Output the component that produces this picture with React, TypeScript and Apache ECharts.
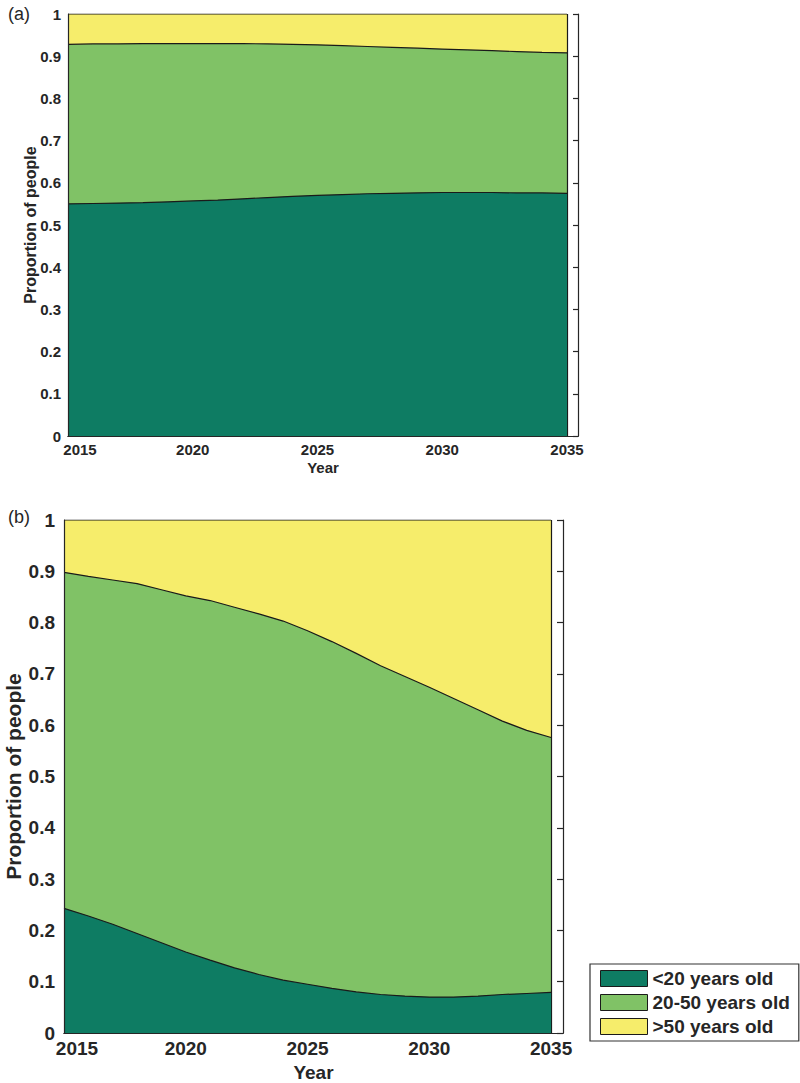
import React, { useEffect, useRef } from "react";
import * as echarts from "echarts";

const years = [2015, 2016, 2017, 2018, 2019, 2020, 2021, 2022, 2023, 2024, 2025, 2026, 2027, 2028, 2029, 2030, 2031, 2032, 2033, 2034, 2035];
const seriesNames = ["<20 years old", "20-50 years old", ">50 years old"];
const colors = ["#0e7c63", "#80c266", "#f6ed6b"];

// Panel (a)
const aUnder20 = [0.550, 0.551, 0.552, 0.553, 0.555, 0.557, 0.559, 0.562, 0.565, 0.568, 0.570, 0.572, 0.574, 0.575, 0.576, 0.577, 0.577, 0.577, 0.576, 0.576, 0.575];
const a20to50 = [0.378, 0.378, 0.377, 0.377, 0.375, 0.373, 0.371, 0.368, 0.364, 0.360, 0.357, 0.353, 0.349, 0.346, 0.343, 0.340, 0.338, 0.336, 0.335, 0.333, 0.333];
const aOver50 = [0.072, 0.071, 0.071, 0.070, 0.070, 0.070, 0.070, 0.070, 0.071, 0.072, 0.073, 0.075, 0.077, 0.079, 0.081, 0.083, 0.085, 0.087, 0.089, 0.091, 0.092];

// Panel (b)
const bUnder20 = [0.243, 0.228, 0.212, 0.194, 0.176, 0.158, 0.142, 0.127, 0.114, 0.103, 0.095, 0.087, 0.080, 0.075, 0.072, 0.070, 0.070, 0.072, 0.075, 0.077, 0.079];
const b20to50 = [0.655, 0.662, 0.671, 0.682, 0.688, 0.694, 0.701, 0.703, 0.703, 0.700, 0.689, 0.676, 0.660, 0.641, 0.623, 0.604, 0.582, 0.558, 0.533, 0.513, 0.497];
const bOver50 = [0.102, 0.110, 0.117, 0.124, 0.136, 0.148, 0.157, 0.170, 0.183, 0.197, 0.216, 0.237, 0.260, 0.284, 0.305, 0.326, 0.348, 0.370, 0.392, 0.410, 0.424];

const xTicks = [2015, 2020, 2025, 2030, 2035];

const FONT = "'Liberation Sans', Arial, Helvetica, sans-serif";
const DARK = "#262626";

// cumulative tops of the stacked bands (built from the arrays above)
const cumulative = (arrs: number[][]) =>
  arrs.map((_, k) => years.map((_, i) => arrs.slice(0, k + 1).reduce((s, a) => s + a[i], 0)));

function App() {
  const ref = useRef<HTMLDivElement>(null);

  useEffect(() => {
    if (!ref.current) return;
    const chart = echarts.init(ref.current, null, { renderer: "svg" });

    const makeXAxes = (gridIndex: number, max: number, fontSize: number, firstPad: number, nameGap: number, nameSize: number) => [
      {
        type: "value",
        gridIndex,
        min: 2015,
        max,
        interval: 5,
        position: "bottom",
        z: 10,
        axisLine: { show: true, lineStyle: { color: DARK, width: 1.2 } },
        axisTick: { show: false },
        splitLine: { show: false },
        axisLabel: {
          margin: 6,
          color: DARK,
          fontFamily: FONT,
          fontWeight: "bold",
          fontSize,
          formatter: (v: number) => {
            if (!xTicks.includes(v)) return "";
            return v === xTicks[0] ? "{f|" + v + "}" : String(v);
          },
          rich: {
            f: { padding: [0, 0, 0, firstPad], fontFamily: FONT, fontWeight: "bold", fontSize, color: DARK },
          },
        },
        name: "Year",
        nameLocation: "middle",
        nameGap,
        nameMoveOverlap: false,
        nameTextStyle: { fontFamily: FONT, fontWeight: "bold", fontSize: nameSize, color: DARK },
      },
      {
        type: "value",
        gridIndex,
        min: 2015,
        max,
        position: "top",
        z: 10,
        axisLine: { show: true, lineStyle: { color: DARK, width: 1.2 } },
        axisTick: { show: false },
        axisLabel: { show: false },
        splitLine: { show: false },
      },
    ];

    const makeYAxes = (gridIndex: number, fontSize: number, margin: number, nameGap: number, nameSize: number, tickLen: number) => [
      {
        type: "value",
        gridIndex,
        min: 0,
        max: 1,
        interval: 0.1,
        position: "left",
        z: 10,
        axisLine: { show: true, lineStyle: { color: DARK, width: 1.2 } },
        axisTick: { show: false },
        splitLine: { show: false },
        axisLabel: {
          margin,
          color: DARK,
          fontFamily: FONT,
          fontWeight: "bold",
          fontSize,
          formatter: (v: number) => String(Math.round(v * 10) / 10),
        },
        name: "Proportion of people",
        nameLocation: "middle",
        nameGap,
        nameRotate: 90,
        nameMoveOverlap: false,
        nameTextStyle: { fontFamily: FONT, fontWeight: "bold", fontSize: nameSize, color: DARK },
      },
      {
        type: "value",
        gridIndex,
        min: 0,
        max: 1,
        interval: 0.1,
        position: "right",
        z: 10,
        axisLine: { show: true, lineStyle: { color: DARK, width: 1.2 } },
        axisTick: { show: true, inside: true, length: tickLen, lineStyle: { color: DARK, width: 1.2 } },
        axisLabel: { show: false },
        splitLine: { show: false },
      },
    ];

    const makeSeries = (xi: number, yi: number, arrs: number[][]) => {
      const tops = cumulative(arrs);
      return tops.map((top, k) => ({
        name: seriesNames[k],
        type: "line",
        xAxisIndex: xi,
        yAxisIndex: yi,
        z: 5 - k,
        showSymbol: false,
        symbol: "none",
        silent: true,
        data: years.map((yr, i) => [yr, top[i]]),
        lineStyle: { color: "#1a1a1a", width: 1.2 },
        itemStyle: { color: colors[k], borderColor: "#1a1a1a", borderWidth: 1 },
        areaStyle: { color: colors[k], opacity: 1, origin: "start" },
        markLine:
          k === 2
            ? {
                silent: true,
                symbol: "none",
                label: { show: false },
                lineStyle: { color: "#1a1a1a", width: 1.2, type: "solid" },
                data: [{ xAxis: 2035 }],
              }
            : undefined,
      }));
    };

    const option = {
      animation: false,
      backgroundColor: "#ffffff",
      grid: [
        { left: 68, top: 14, width: 510, height: 422, outerBoundsMode: "none", containLabel: false },
        { left: 64, top: 520, width: 499, height: 513, outerBoundsMode: "none", containLabel: false },
      ],
      xAxis: [
        ...makeXAxes(0, 2035.44, 15, 24, 24, 15),
        ...makeXAxes(1, 2035.49, 19, 26, 30, 19),
      ],
      yAxis: [
        ...makeYAxes(0, 15, 7, 30, 16, 5),
        ...makeYAxes(1, 19, 9, 40, 21, 6),
      ],
      legend: {
        orient: "vertical",
        left: 590,
        top: 964,
        padding: [5, 9, 5, 10],
        itemGap: 5,
        itemWidth: 47,
        itemHeight: 16,
        borderColor: "#333",
        borderWidth: 1.2,
        icon: "rect",
        data: seriesNames,
        itemStyle: { borderColor: "#1a1a1a", borderWidth: 1 },
        textStyle: { fontFamily: FONT, fontWeight: "bold", fontSize: 19, color: DARK, lineHeight: 16 },
      },
      graphic: [
        { type: "text", left: 8, top: 5, style: { text: "(a)", font: "18px " + FONT, fill: DARK } },
        { type: "text", left: 8, top: 508, style: { text: "(b)", font: "18px " + FONT, fill: DARK } },
      ],
      series: [
        ...makeSeries(0, 0, [aUnder20, a20to50, aOver50]),
        ...makeSeries(2, 2, [bUnder20, b20to50, bOver50]),
      ],
    };

    chart.setOption(option as any);
    return () => chart.dispose();
  }, []);

  return (
    <div
      ref={ref}
      style={{ position: "absolute", left: 0, top: 0, width: 800, height: 1083, background: "#fff" }}
    />
  );
}

export default App;
